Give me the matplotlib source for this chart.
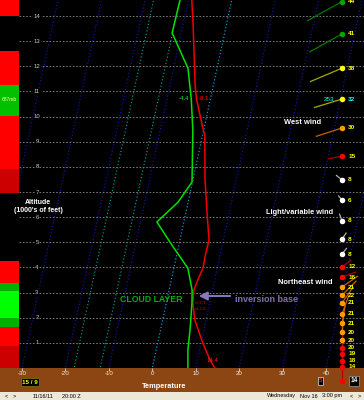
import numpy as np
import matplotlib
matplotlib.use('Agg')
import matplotlib.pyplot as plt

plt.rcParams['font.family'] = ['Liberation Sans', 'DejaVu Sans']

# 温度/露点廓线 (高度: 千英尺, 温度: °C)
alt_temp = [0.0, 0.32, 0.99, 1.91, 2.59, 3.10, 3.50, 3.98, 4.57, 5.09, 6.17, 7.48, 9.27, 9.55, 10.66, 11.18, 13.68, 14.64]
temp = [14.4, 12.9, 10.4, 7.4, 6.1, 5.7, 6.1, 6.7, 6.6, 6.7, 4.9, 2.8, 0.5, -0.3, -3.1, -4.1, -7.7, -9.2]
alt_dew = [0.0, 0.72, 1.51, 2.59, 3.10, 3.98, 4.89, 5.81, 6.60, 7.40, 9.47, 10.70, 11.93, 13.33, 14.64]
dewp = [8.2, 7.3, 6.8, 5.9, 5.3, 3.2, -1.6, -6.2, -2.3, -0.1, -2.5, -4.4, -6.7, -12.1, -11.9]

# 风 (最后一个为地面)
wind_alt = [14.58, 13.29, 11.93, 10.70, 9.55, 8.43, 7.48, 6.68, 5.85, 5.13, 4.53, 4.02, 3.62,
            3.22, 2.90, 2.59, 2.15, 1.79, 1.43, 1.11, 0.80, 0.56, 0.28, 0.04, -0.52]
wind_spd = [44, 41, 38, 32, 30, 15, 8, 6, 8, 8, 8, 12, 16, 21, 22, 21, 21, 21, 20, 20, 20, 19, 18, 14, 14]
wind_dir = [241, 241, 247, 253, 252, 259, 309, 320, 340, 34, 37, 52, 70, 55, 45, 35, 20, 10, 5, 0, 0, 0, 0, 0, 0]
wind_cls = ['g', 'g', 'y', 'y', 'o', 'r', 'w', 'w', 'w', 'w', 'w', 'r', 'r',
            'o', 'o', 'o', 'o', 'o', 'o', 'o', 'r', 'r', 'r', 'r', 'r']

# 左侧色条
band_edges = [0, 0.88, 1.63, 1.99, 3.06, 3.38, 4.26, 6.96, 7.92, 10.03, 11.26, 12.61, 14.0, 14.64]
band_cls = ['dr', 'r', 'dg', 'bg', 'dg', 'r', 'k', 'dr', 'r', 'g', 'r', 'k', 'r']

temp_ticks = [-30, -20, -10, 0, 10, 20, 30, 40]
alt_ticks = list(range(1, 15))
special_temps = [-18, -12, 0]

SKEW = 1.25          # °C per 1000 ft
XMIN, XMAX = -30.69, 48.75
YMAX = 14.64
WIND_X = 43.7
PX_X, PX_Y = 4.343, 25.14

dot_col = {'g': '#00A800', 'y': '#FFFF00', 'o': '#FF9A00', 'r': '#FF0000', 'w': '#FFFFFF'}
line_col = {'g': '#007800', 'y': '#A8A800', 'o': '#C86400', 'r': '#B00000', 'w': '#B0B0B0'}
band_col = {'r': '#FF0000', 'dr': '#CC0000', 'g': '#00C000', 'bg': '#00FF00', 'dg': '#00B000', 'k': 'black'}


def skx(t, a):
    return np.asarray(t, float) + SKEW * np.asarray(a, float)


fig = plt.figure(figsize=(3.64, 4.0), dpi=100, facecolor='black')
W, H = 364, 400

# 色条
ax_c = fig.add_axes([0, 32 / H, 19 / W, 368 / H])
ax_c.set_facecolor('black')
for i, c in enumerate(band_cls):
    ax_c.bar(0, band_edges[i + 1] - band_edges[i], bottom=band_edges[i], width=1,
             color=band_col[c], linewidth=0)
ax_c.set_xlim(-0.5, 0.5)
ax_c.set_ylim(0, YMAX)
ax_c.axis('off')
ax_c.text(0, 10.68, '687mb', color='#FFFF90', fontsize=3.6, ha='center', va='center')

# 底部棕色条
ax_b = fig.add_axes([0, 8 / H, 1, 24 / H])
ax_b.set_facecolor('#8C4614')
ax_b.set_xticks([])
ax_b.set_yticks([])
for s in ax_b.spines.values():
    s.set_visible(False)

# 状态栏
ax_s = fig.add_axes([0, 0, 1, 8 / H])
ax_s.set_facecolor('#ECE9D8')
ax_s.set_xlim(0, W)
ax_s.set_ylim(0, 8)
ax_s.set_xticks([])
ax_s.set_yticks([])
for s in ax_s.spines.values():
    s.set_visible(False)
kw = dict(fontsize=4.0, color='black', va='center')
ax_s.text(5, 4, '<', **kw)
ax_s.text(13, 4, '>', **kw)
ax_s.text(33, 4, '11/16/11', **kw)
ax_s.text(62, 4, '20:00 Z', **kw)
ax_s.text(267, 4, 'Wednesday', **kw)
ax_s.text(300, 4, 'Nov 16', **kw)
ax_s.text(322, 4, '3:00 pm', **kw)
ax_s.text(350, 4, '<', **kw)
ax_s.text(358, 4, '>', **kw)

# 主图
ax = fig.add_axes([19 / W, 32 / H, 345 / W, 368 / H])
ax.set_facecolor('black')
ax.set_xlim(XMIN, XMAX)
ax.set_ylim(0, YMAX)
for s in ax.spines.values():
    s.set_visible(False)

a2 = np.array([-1, YMAX + 1])
for t in range(-80, 60, 10):
    ax.plot(skx([t, t], a2), a2, color='#1818C0', lw=0.8, ls=(0, (1, 2)), zorder=1)
for t in special_temps:
    ax.plot(skx([t, t], a2), a2, color='#00A8A8', lw=0.8, ls=(0, (1, 2)), zorder=1.5)
for k in alt_ticks:
    ax.axhline(k, color='#8C8C8C', lw=0.6, ls=(0, (2, 2)), zorder=1.2)
    ax.text(-26.55, k, str(k), color='#C8C8C8', fontsize=4.3, ha='center', va='center',
            bbox=dict(fc='black', ec='none', pad=0.3), zorder=2)

ax.plot(skx(temp, alt_temp), alt_temp, color='#F00000', lw=1.1, zorder=4)
ax.plot(skx(dewp, alt_dew), alt_dew, color='#00E000', lw=1.1, zorder=4)

ax.set_xticks(temp_ticks)
ax.set_xticklabels([str(t) for t in temp_ticks])
ax.set_yticks([])
ax.tick_params(axis='x', direction='out', length=2, width=0.6, color='#D8D8D8',
               labelsize=4.4, labelcolor='#F4ECE4', pad=0.3)

# 风
for i in range(len(wind_alt)):
    th = np.radians(wind_dir[i])
    L = 0.9 * wind_spd[i]
    x1 = WIND_X + np.sin(th) * L / PX_X
    y1 = wind_alt[i] + np.cos(th) * L / PX_Y
    ax.plot([WIND_X, x1], [wind_alt[i], y1], color=line_col[wind_cls[i]], lw=0.9,
            zorder=5, clip_on=False)
for i in range(len(wind_alt)):
    ax.scatter(WIND_X, wind_alt[i], s=16, color=dot_col[wind_cls[i]], zorder=6,
               clip_on=False, linewidths=0)
    if i == len(wind_alt) - 1:
        continue
    c = '#00FFFF' if i == 3 else '#FFFF00'
    ax.text(45.1, wind_alt[i], str(wind_spd[i]), color=c, fontsize=4.6,
            fontweight='bold', ha='left', va='center', zorder=6)
ax.text(42.0, wind_alt[3], str(wind_dir[3]), color='#00FFFF', fontsize=4.6,
        ha='right', va='center', zorder=6)


def fx(px):
    return px / W


def fy(py):
    return 1 - py / H


# 文字标注
bold = dict(color='white', fontweight='bold', ha='center', va='center')
fig.text(fx(38), fy(203), 'Altitude', fontsize=5.0, **bold)
fig.text(fx(38), fy(211), "(1000's of feet)", fontsize=5.0, **bold)
fig.text(fx(303), fy(122), 'West wind', fontsize=5.4, **bold)
fig.text(fx(300), fy(213), 'Light/variable wind', fontsize=5.3, **bold)
fig.text(fx(305), fy(283), 'Northeast wind', fontsize=5.4, **bold)
fig.text(fx(164), fy(386), 'Temperature', fontsize=5.3, **bold)
fig.text(fx(151), fy(300), 'CLOUD LAYER', fontsize=6.3, color='#00B000',
         fontweight='bold', ha='center', va='center')
fig.text(fx(235), fy(300), 'inversion base', fontsize=6.5, color='#8070B0',
         fontweight='bold', ha='left', va='center')
ax.annotate('', xy=(fx(196), fy(296)), xytext=(fx(233), fy(296)),
            xycoords='figure fraction', textcoords='figure fraction',
            arrowprops=dict(arrowstyle='-|>,head_length=0.5,head_width=0.25',
                            color='#8878C0', lw=1.4))
fig.text(fx(195), fy(303), 'cCCL', fontsize=3.8, color='#E00000', family='Liberation Serif',
         ha='left', va='center')
fig.text(fx(195), fy(309), 'cLCL', fontsize=3.8, color='#E00000', family='Liberation Serif',
         ha='left', va='center')
fig.text(fx(207), fy(361), '14.4', fontsize=4.3, color='#FF2020', ha='left', va='center')
fig.text(fx(189), fy(99), '-4.4', fontsize=4.3, color='#00C000', fontweight='bold',
         ha='right', va='center')
fig.text(fx(199), fy(99), '-3.1', fontsize=4.3, color='#D00000', fontweight='bold',
         ha='left', va='center')

fig.text(fx(30), fy(382), '15 / 9', fontsize=4.5, color='#FFFF00', fontweight='bold',
         ha='center', va='center', bbox=dict(fc='black', ec='#808000', pad=0.8, lw=0.5))
fig.text(fx(320.5), fy(381), '5', fontsize=4.5, color='#FF2020', fontweight='bold',
         ha='center', va='center', bbox=dict(fc='black', ec='#E0E0E0', pad=0.8, lw=0.5))
fig.text(fx(354), fy(381), '14', fontsize=4.8, color='white', fontweight='bold',
         ha='center', va='center', bbox=dict(fc='black', ec='#A0A0A0', pad=1.0, lw=0.5))

fig.savefig('out.png', dpi=100, facecolor=fig.get_facecolor())
